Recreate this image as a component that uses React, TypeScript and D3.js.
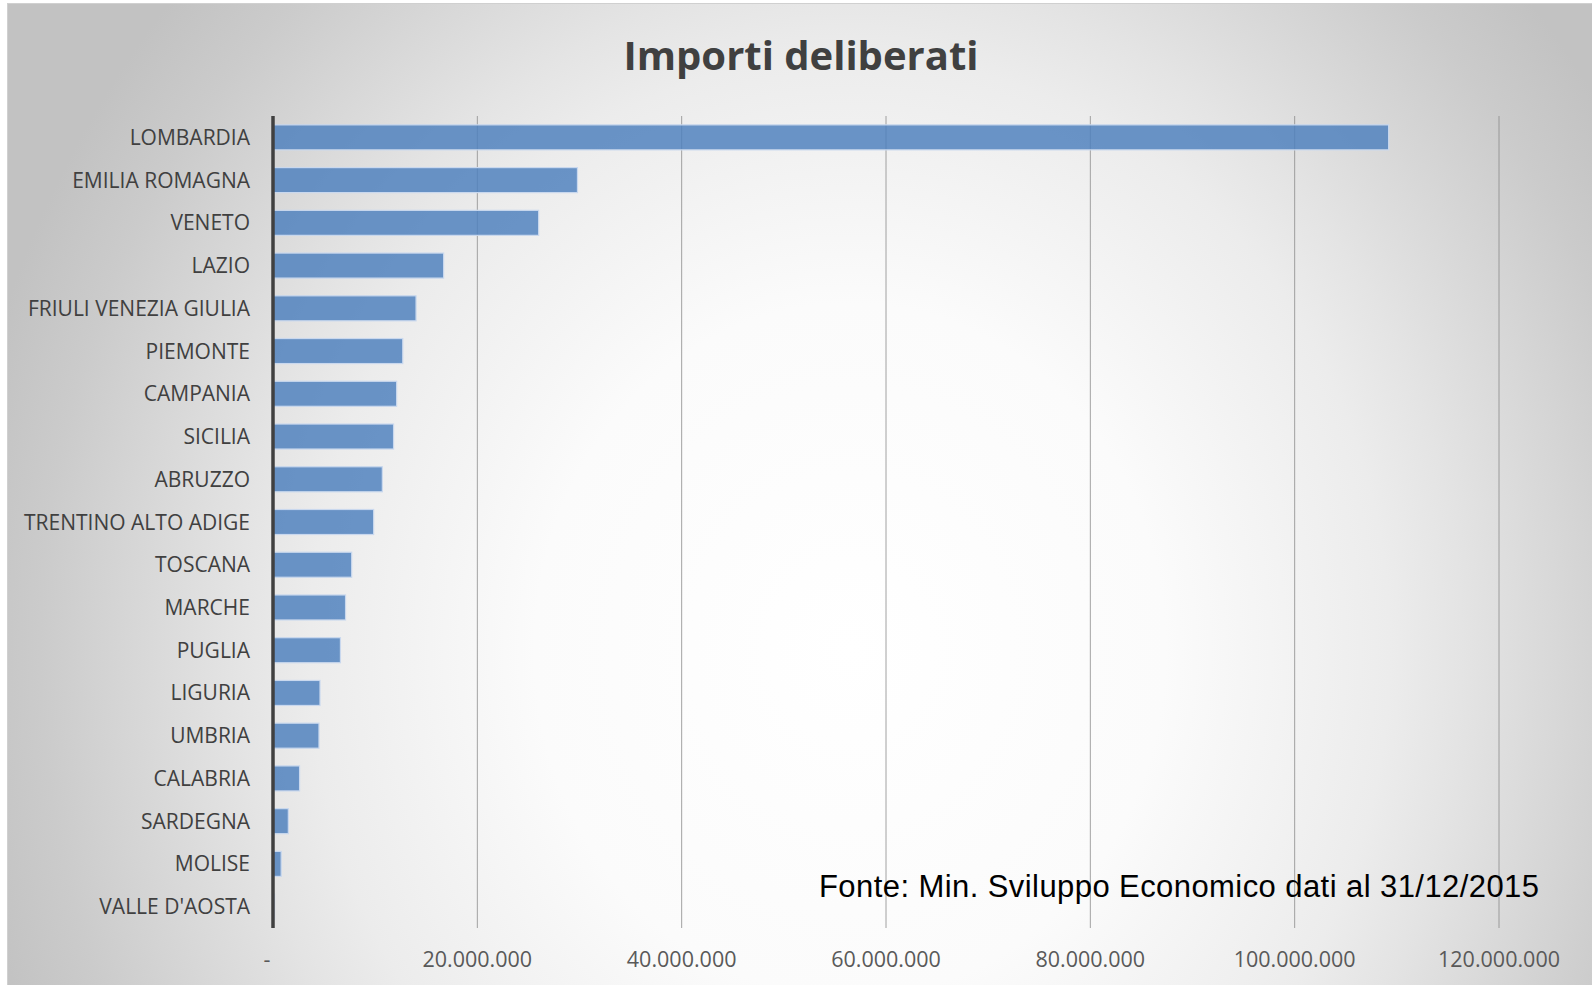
import React from 'react';
import * as d3 from 'd3';

const regions = [
  'LOMBARDIA', 'EMILIA ROMAGNA', 'VENETO', 'LAZIO', 'FRIULI VENEZIA GIULIA',
  'PIEMONTE', 'CAMPANIA', 'SICILIA', 'ABRUZZO', 'TRENTINO ALTO ADIGE',
  'TOSCANA', 'MARCHE', 'PUGLIA', 'LIGURIA', 'UMBRIA', 'CALABRIA',
  'SARDEGNA', 'MOLISE', "VALLE D'AOSTA",
];
// importi deliberati (euro)
const amounts = [
  109200000, 29800000, 26000000, 16700000, 14000000,
  12700000, 12100000, 11800000, 10700000, 9850000,
  7700000, 7100000, 6600000, 4600000, 4500000, 2600000,
  1500000, 800000, 150000,
];
const ticks = [0, 20000000, 40000000, 60000000, 80000000, 100000000, 120000000];
const title = 'Importi deliberati';
const source = 'Fonte: Min. Sviluppo Economico dati al 31/12/2015';

const W = 1592;
const H = 985;
const margin = { left: 273, right: 93, top: 116, bottom: 57 };

const fmt = (v: number) => (v === 0 ? '-' : d3.format(',d')(v).replace(/,/g, '.'));

export default function App() {
  const x = d3.scaleLinear().domain([0, 120000000]).range([margin.left, W - margin.right]);
  const y = d3.scaleBand<string>()
    .domain(regions)
    .range([margin.top, H - margin.bottom])
    .paddingInner(0.415)
    .paddingOuter(0.2075);

  // background glow
  const gx = 850, gy = 650;

  return (
    <svg width={W} height={H} style={{ position: 'absolute', left: 0, top: 0 }}>
      <defs>
        <radialGradient id="bg" gradientUnits="userSpaceOnUse" cx={gx} cy={gy} r={900}
          gradientTransform={`translate(${gx} ${gy}) scale(1 1.1) translate(${-gx} ${-gy})`}>
          <stop offset="0" stopColor="#ffffff" />
          <stop offset="0.35" stopColor="#fbfbfb" />
          <stop offset="0.6" stopColor="#ececec" />
          <stop offset="0.68" stopColor="#e4e4e4" />
          <stop offset="0.9" stopColor="#cbcbcb" />
          <stop offset="1" stopColor="#c2c2c2" />
        </radialGradient>
      </defs>
      <rect x={0} y={0} width={W} height={H} fill="#fff" />
      <rect x={7.5} y={3.5} width={W} height={H} fill="url(#bg)" stroke="#d0d0d0" strokeWidth={1} />

      <text x={801} y={70} textAnchor="middle" fontFamily="'Open Sans', sans-serif" fontWeight="bold"
        fontSize={40} fill="#404040">{title}</text>

      {ticks.slice(1).map(t => (
        <line key={t} x1={x(t)} x2={x(t)} y1={margin.top} y2={H - margin.bottom}
          stroke="#8c8c8c" strokeWidth={0.8} />
      ))}

      {regions.map((r, i) => (
        <rect key={r} x={x(0)} y={y(r)} width={Math.max(0, x(amounts[i]) - x(0))} height={y.bandwidth()}
          fill="#4f81bd" fillOpacity={0.84} stroke="#c9d8ee" strokeWidth={1.2} />
      ))}

      <line x1={x(0)} x2={x(0)} y1={margin.top} y2={H - margin.bottom} stroke="#404040" strokeWidth={3.5} />

      {regions.map(r => (
        <text key={r} x={250} y={(y(r) as number) + y.bandwidth() / 2 + 7.5} textAnchor="end"
          fontFamily="'Open Sans', sans-serif" fontSize={21} fill="#404040">{r}</text>
      ))}

      {ticks.map(t => (
        <text key={t} x={x(t) - (t === 0 ? 6 : 0)} y={967} textAnchor="middle" fontFamily="'Open Sans', sans-serif"
          fontSize={21.5} fill="#595959">{fmt(t)}</text>
      ))}

      <text x={819} y={897} fontFamily="'Liberation Sans', Arial, sans-serif" fontSize={31}
        textLength={720} lengthAdjust="spacing" fill="#000">{source}</text>
    </svg>
  );
}
